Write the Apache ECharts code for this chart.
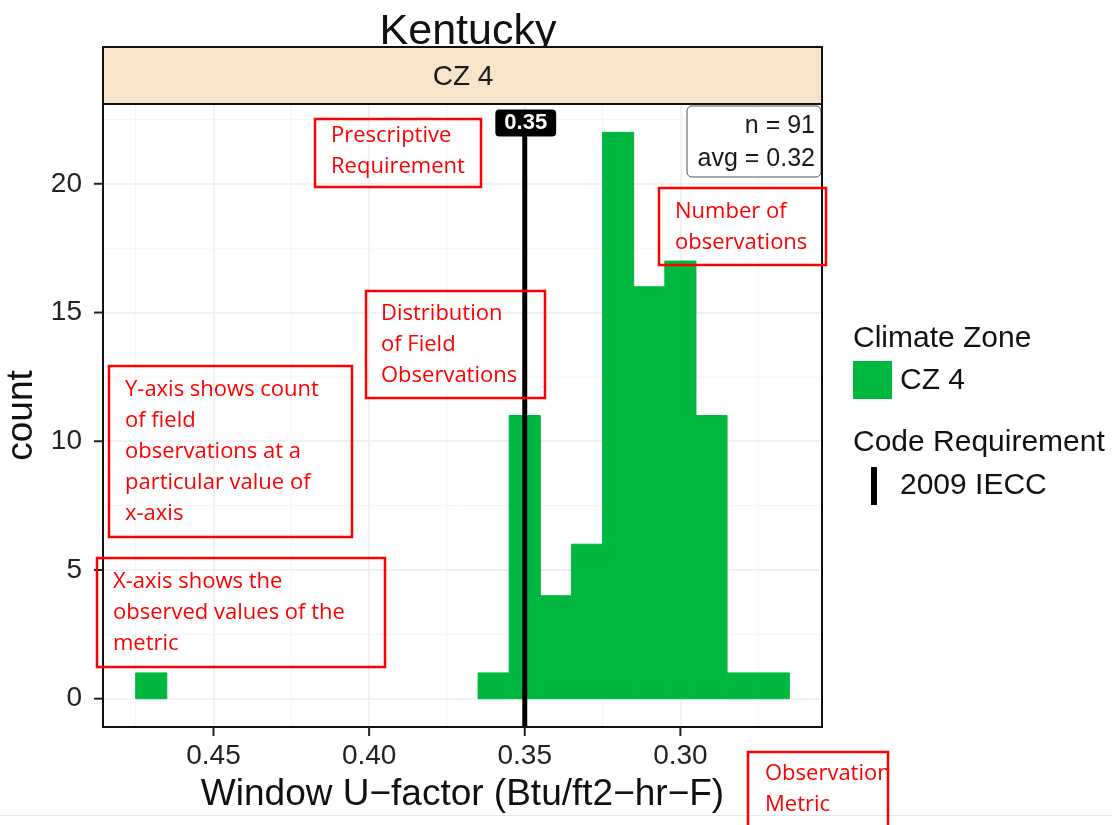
<!DOCTYPE html>
<html>
<head>
<meta charset="utf-8">
<script src="https://cdn.jsdelivr.net/npm/echarts@6/dist/echarts.min.js"></script>
<style>html,body{margin:0;padding:0;background:#fff}#c{width:1112px;height:825px}</style>
</head>
<body>
<div id="c"></div>
<script>
// ---- data ----
const binCenters = [0.47, 0.36, 0.35, 0.34, 0.33, 0.32, 0.31, 0.30, 0.29, 0.28, 0.27];
const counts     = [1, 1, 11, 4, 6, 22, 16, 17, 11, 1, 1];
const binWidth = 0.01;
const xTicks = [0.30, 0.35, 0.40, 0.45];
const xTickLabels = ['0.30', '0.35', '0.40', '0.45'];
const xMinor = [0.275, 0.325, 0.375, 0.425, 0.475];
const yTicks = [0, 5, 10, 15, 20];
const yMinor = [2.5, 7.5, 12.5, 17.5, 22.5];
const refValues = [0.35];
const refLabels = ['0.35'];
const facetLabel = 'CZ 4';
const chartTitle = 'Kentucky';
const xMin = 0.2545, xMax = 0.4855, yMin = -1.1, yMax = 23.1;

const nObs = counts.reduce((a, b) => a + b, 0);
const avg = binCenters.reduce((s, c, i) => s + c * counts[i], 0) / nObs;

const GREEN = '#00B83F';
const SANS = '"Liberation Sans", Arial, sans-serif';
const NOTE = '"Open Sans", sans-serif';
const TICK_LEN = 9;

const chart = echarts.init(document.getElementById('c'));

function redBox(x, y, w, h, lines, tx, ty) {
  return [
    { type: 'rect', shape: { x: x, y: y, width: w, height: h }, style: { fill: 'none', stroke: '#FF0000', lineWidth: 2.5 }, z: 100 },
    { type: 'text', x: tx, y: ty, style: { text: lines.join('\n'), font: '22px ' + NOTE, fill: '#FF0000', lineHeight: 31 }, z: 100 }
  ];
}

const graphics = [
  // facet strip
  { type: 'rect', shape: { x: 103, y: 47, width: 719, height: 57 }, style: { fill: '#F8E3CB', stroke: '#111', lineWidth: 2 }, z: 50 },
  { type: 'text', x: 463, y: 77, style: { text: facetLabel, font: '28px ' + SANS, fill: '#1a1a1a', align: 'center', verticalAlign: 'middle' }, z: 51 },
  // stats box
  { type: 'rect', shape: { x: 687, y: 106, width: 134, height: 71, r: 5 }, style: { fill: '#fff', stroke: '#555', lineWidth: 1 }, z: 60 },
  { type: 'text', x: 815, y: 126, style: { text: 'n = ' + nObs, font: '25px ' + SANS, fill: '#1a1a1a', align: 'right', verticalAlign: 'middle' }, z: 61 },
  { type: 'text', x: 815, y: 159, style: { text: 'avg = ' + avg.toFixed(2), font: '25px ' + SANS, fill: '#1a1a1a', align: 'right', verticalAlign: 'middle' }, z: 61 },
  // legend
  { type: 'text', x: 853, y: 339, style: { text: 'Climate Zone', font: '30px ' + SANS, fill: '#111', verticalAlign: 'middle' } },
  { type: 'rect', shape: { x: 853, y: 361, width: 39, height: 38 }, style: { fill: GREEN } },
  { type: 'text', x: 900, y: 381, style: { text: facetLabel, font: '30px ' + SANS, fill: '#111', verticalAlign: 'middle' } },
  { type: 'text', x: 853, y: 443, style: { text: 'Code Requirement', font: '30px ' + SANS, fill: '#111', verticalAlign: 'middle' } },
  { type: 'rect', shape: { x: 871, y: 467, width: 6, height: 38 }, style: { fill: '#000' } },
  { type: 'text', x: 900, y: 486, style: { text: '2009 IECC', font: '30px ' + SANS, fill: '#111', verticalAlign: 'middle' } },
  // faint bottom edge
  { type: 'rect', shape: { x: 0, y: 815, width: 1112, height: 1 }, style: { fill: '#e8e8e8' } }
]
.concat(redBox(315, 119, 166, 68, ['Prescriptive', 'Requirement'], 331, 120))
.concat(redBox(659, 188, 167, 77, ['Number of', 'observations'], 675, 196))
.concat(redBox(366, 291, 179, 107, ['Distribution', 'of Field', 'Observations'], 381, 298))
.concat(redBox(109, 366, 243, 171, ['Y-axis shows count', 'of field', 'observations at a', 'particular value of', 'x-axis'], 125, 374))
.concat(redBox(97, 558, 288, 109, ['X-axis shows the', 'observed values of the', 'metric'], 113, 566))
.concat(redBox(748, 752, 140, 80, ['Observation', 'Metric'], 765, 758));

const option = {
  backgroundColor: '#fff',
  animation: false,
  title: {
    text: chartTitle, left: 463, top: 6, textAlign: 'center',
    textStyle: { fontFamily: SANS, fontSize: 43, fontWeight: 'normal', color: '#111' }
  },
  grid: { left: 103, right: 290, top: 104, bottom: 98, show: false, outerBoundsMode: 'none', containLabel: false },
  xAxis: {
    type: 'value', min: xMin, max: xMax, inverse: true,
    name: 'Window U\u2212factor (Btu/ft2\u2212hr\u2212F)', nameLocation: 'middle', nameGap: 49,
    nameTextStyle: { fontFamily: SANS, fontSize: 37, color: '#111' },
    axisLine: { show: false, onZero: false },
    axisTick: { show: false, customValues: xTicks },
    axisLabel: { fontFamily: SANS, fontSize: 28, color: '#222', margin: 15, customValues: xTicks,
      formatter: v => { const i = xTicks.findIndex(t => Math.abs(t - v) < 1e-9); return i >= 0 ? xTickLabels[i] : ''; } },
    splitLine: { show: true, lineStyle: { color: '#EDEDED', width: 1.5 } }
  },
  yAxis: {
    type: 'value', min: yMin, max: yMax,
    name: 'count', nameLocation: 'middle', nameGap: 57, nameRotate: 90,
    nameTextStyle: { fontFamily: SANS, fontSize: 37, color: '#111' },
    axisLine: { show: false, onZero: false },
    axisTick: { show: false, customValues: yTicks },
    axisLabel: { fontFamily: SANS, fontSize: 28, color: '#222', margin: 21, customValues: yTicks },
    splitLine: { show: true, lineStyle: { color: '#EDEDED', width: 1.5 } }
  },
  graphic: graphics,
  series: [
    {
      type: 'custom', name: 'minorX', silent: true, z: 1,
      data: xMinor.map(v => [v, 0]),
      renderItem: (params, api) => {
        const a = api.coord([api.value(0), yMin]), b = api.coord([api.value(0), yMax]);
        return { type: 'line', shape: { x1: a[0], y1: a[1], x2: b[0], y2: b[1] }, style: { stroke: '#F5F5F5', lineWidth: 1 } };
      }
    },
    {
      type: 'custom', name: 'minorY', silent: true, z: 1,
      data: yMinor.map(v => [xMin, v]),
      renderItem: (params, api) => {
        const a = api.coord([xMin, api.value(1)]), b = api.coord([xMax, api.value(1)]);
        return { type: 'line', shape: { x1: a[0], y1: a[1], x2: b[0], y2: b[1] }, style: { stroke: '#F5F5F5', lineWidth: 1 } };
      }
    },
    {
      type: 'custom', name: 'CZ 4', z: 5,
      data: binCenters.map((c, i) => [c, counts[i]]),
      renderItem: (params, api) => {
        const c = api.value(0), n = api.value(1);
        const p0 = api.coord([c - binWidth / 2, 0]);
        const p1 = api.coord([c + binWidth / 2, n]);
        return { type: 'rect', shape: { x: Math.min(p0[0], p1[0]), y: Math.min(p0[1], p1[1]), width: Math.abs(p1[0] - p0[0]), height: Math.abs(p1[1] - p0[1]) }, style: { fill: GREEN, stroke: GREEN, lineWidth: 1 } };
      }
    },
    {
      type: 'custom', name: '2009 IECC', z: 10,
      data: refValues.map((v, i) => [v, i]),
      renderItem: (params, api) => {
        const v = api.value(0);
        const bot = api.coord([v, yMin]);
        const top = api.coord([v, 22.3]);
        const head = api.coord([v, yMax]);
        return { type: 'group', children: [
          { type: 'line', shape: { x1: bot[0], y1: bot[1], x2: top[0], y2: top[1] }, style: { stroke: '#000', lineWidth: 5 } },
          { type: 'text', x: head[0] + 1, y: head[1] + 19, style: { text: refLabels[params.dataIndex], font: 'bold 22px ' + SANS, fill: '#fff', align: 'center', verticalAlign: 'middle', backgroundColor: '#000', padding: [3, 9, 2, 9], borderRadius: 4 } }
        ] };
      }
    }
  ]
};
chart.setOption(option);

// panel border and axis tick marks placed through the chart's own scales
const extra = [];
const tl = chart.convertToPixel({ xAxisIndex: 0, yAxisIndex: 0 }, [xMax, yMax]);
const br = chart.convertToPixel({ xAxisIndex: 0, yAxisIndex: 0 }, [xMin, yMin]);
if (tl && br) {
  extra.push({ type: 'rect', shape: { x: tl[0], y: tl[1], width: br[0] - tl[0], height: br[1] - tl[1] }, style: { fill: 'none', stroke: '#111', lineWidth: 2 }, z: 80 });
  xTicks.forEach(v => {
    const p = chart.convertToPixel({ xAxisIndex: 0, yAxisIndex: 0 }, [v, yMin]);
    extra.push({ type: 'rect', shape: { x: p[0] - 1, y: br[1], width: 2, height: TICK_LEN }, style: { fill: '#222' }, z: 90 });
  });
  yTicks.forEach(v => {
    const p = chart.convertToPixel({ xAxisIndex: 0, yAxisIndex: 0 }, [xMax, v]);
    extra.push({ type: 'rect', shape: { x: tl[0] - TICK_LEN, y: p[1] - 1, width: TICK_LEN, height: 2 }, style: { fill: '#222' }, z: 90 });
  });
}
chart.setOption({ graphic: graphics.concat(extra) });
</script>
</body>
</html>
